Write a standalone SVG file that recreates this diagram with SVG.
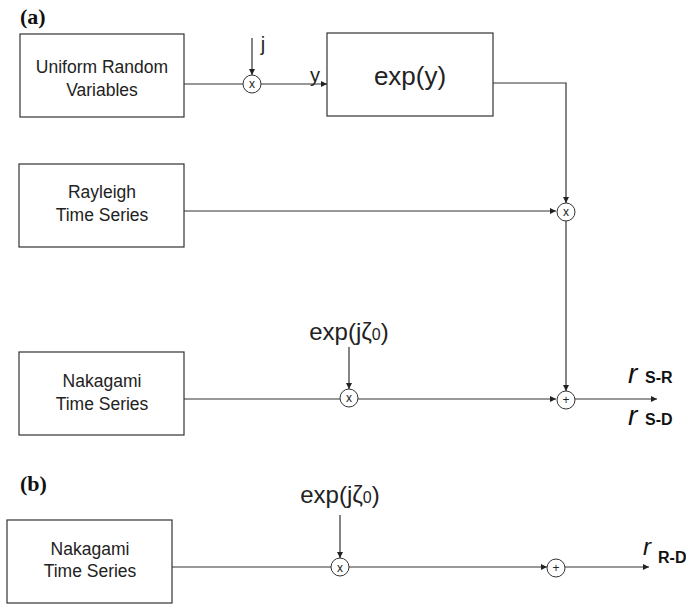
<svg xmlns="http://www.w3.org/2000/svg" width="686" height="605" viewBox="0 0 686 605">
<defs>
<marker id="ah" markerWidth="8" markerHeight="8" refX="6" refY="3" orient="auto" markerUnits="userSpaceOnUse">
<path d="M0,0 L6,3 L0,6 Z" fill="#222"/>
</marker>
<style>
.box{fill:#fff;stroke:#333;stroke-width:1.2}
.ln{fill:none;stroke:#333;stroke-width:1.2}
.op{fill:#fff;stroke:#333;stroke-width:1}
.t{font-family:"Liberation Sans",Arial,sans-serif;fill:#222;text-anchor:middle}
.lbl{font-family:"Liberation Serif","Times New Roman",serif;font-weight:bold;font-size:22px;fill:#111}
.sym{font-family:"Liberation Sans",Arial,sans-serif;font-size:12px;fill:#222;text-anchor:middle}
.ri{font-family:"Liberation Sans",Arial,sans-serif;font-style:italic;fill:#111}
.rs{font-family:"Liberation Sans",Arial,sans-serif;font-weight:bold;font-size:16px;fill:#111}
</style>
</defs>
<text class="lbl" x="20" y="24">(a)</text>
<text class="lbl" x="20" y="491">(b)</text>
<g id="connectors">
<path class="ln" d="M184,84 H243"/>
<path class="ln" d="M252,38 V75" marker-end="url(#ah)"/>
<path class="ln" d="M261,84 H327" marker-end="url(#ah)"/>
<path class="ln" d="M493,83 H566 V203" marker-end="url(#ah)"/>
<path class="ln" d="M184,211 H556" marker-end="url(#ah)"/>
<path class="ln" d="M566,221 V391" marker-end="url(#ah)"/>
<path class="ln" d="M184,399 H340"/>
<path class="ln" d="M349,347 V389" marker-end="url(#ah)"/>
<path class="ln" d="M358,399 H556" marker-end="url(#ah)"/>
<path class="ln" d="M575,399 H657" marker-end="url(#ah)"/>
<path class="ln" d="M172,567 H331"/>
<path class="ln" d="M340,515 V558" marker-end="url(#ah)"/>
<path class="ln" d="M349,567 H547" marker-end="url(#ah)"/>
<path class="ln" d="M565,567 H649" marker-end="url(#ah)"/>
</g>
<g id="uniform">
<rect class="box" x="20" y="34" width="164" height="83"/>
<text class="t" x="102" y="73" font-size="17.5">Uniform Random</text>
<text class="t" x="102" y="96" font-size="17.5">Variables</text>
</g>
<g id="mult1">
<circle class="op" cx="252" cy="84" r="9"/>
<text class="sym" x="252" y="88">x</text>
<text class="t" x="263" y="51" font-size="20">j</text>
<text class="t" x="315" y="82" font-size="20">y</text>
</g>
<g id="expy">
<rect class="box" x="327" y="33" width="166" height="83"/>
<text class="t" x="410" y="85" font-size="26">exp(y)</text>
</g>
<g id="rayleigh">
<rect class="box" x="19" y="164" width="165" height="83"/>
<text class="t" x="102" y="198" font-size="17.5">Rayleigh</text>
<text class="t" x="102" y="221" font-size="17.5">Time Series</text>
</g>
<g id="mult2">
<circle class="op" cx="566" cy="212" r="9"/>
<text class="sym" x="566" y="216">x</text>
</g>
<g id="nakagami1">
<rect class="box" x="19" y="352" width="165" height="83"/>
<text class="t" x="102" y="387" font-size="17.5">Nakagami</text>
<text class="t" x="102" y="410" font-size="17.5">Time Series</text>
</g>
<g id="mult3">
<circle class="op" cx="349" cy="398" r="9"/>
<text class="sym" x="349" y="402">x</text>
<text class="t" x="349" y="340" font-size="24">exp(jζ<tspan font-size="16">0</tspan>)</text>
</g>
<g id="sum1">
<circle class="op" cx="566" cy="400" r="9"/>
<text class="sym" x="566" y="404">+</text>
<text class="ri" x="628" y="383" font-size="28">r</text>
<text class="rs" x="645" y="383">S-R</text>
<text class="ri" x="628" y="425" font-size="28">r</text>
<text class="rs" x="645" y="425">S-D</text>
</g>
<g id="nakagami2">
<rect class="box" x="7" y="520" width="165" height="83"/>
<text class="t" x="90" y="555" font-size="17.5">Nakagami</text>
<text class="t" x="90" y="577" font-size="17.5">Time Series</text>
</g>
<g id="mult4">
<circle class="op" cx="340" cy="567" r="9"/>
<text class="sym" x="340" y="572" font-size="14">x</text>
<text class="t" x="340" y="503" font-size="24">exp(jζ<tspan font-size="16">0</tspan>)</text>
</g>
<g id="sum2">
<circle class="op" cx="556" cy="568" r="9"/>
<text class="sym" x="556" y="572">+</text>
<text class="ri" x="643" y="555" font-size="24">r</text>
<text class="rs" x="658" y="563">R-D</text>
</g>
</svg>
